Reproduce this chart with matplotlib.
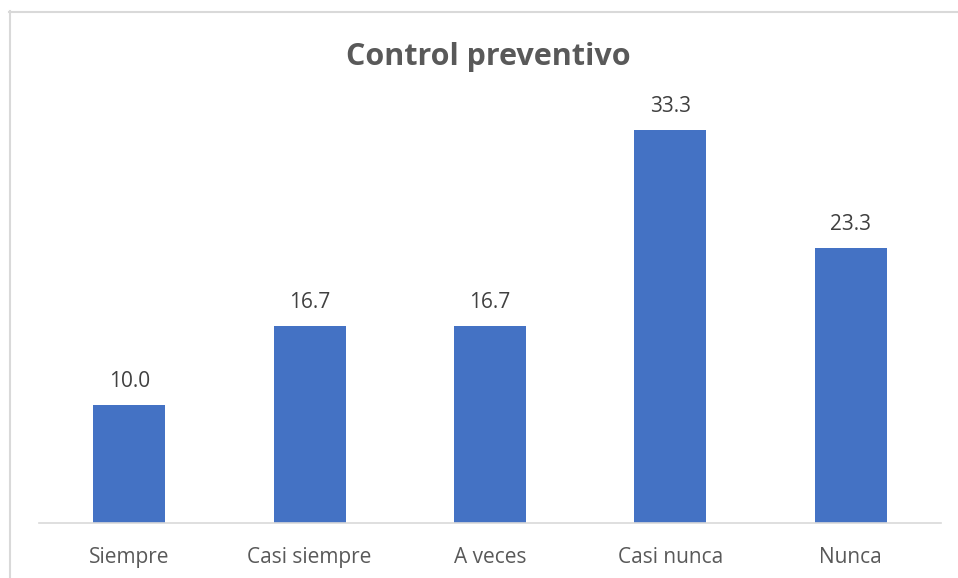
import matplotlib.pyplot as plt
from matplotlib.lines import Line2D

categories = ['Siempre', 'Casi siempre', 'A veces', 'Casi nunca', 'Nunca']
values = [10.0, 16.7, 16.7, 33.3, 23.3]

bar_color = '#4472C4'
text_color = '#595959'

fig = plt.figure(figsize=(9.58, 5.78), dpi=100)
ax = fig.add_axes([39 / 958, 55 / 578, 902 / 958, 413 / 578])

x = range(len(categories))
bars = ax.bar(x, values, width=0.4, color=bar_color, zorder=2)

ax.set_xlim(-0.5, len(categories) - 0.5)
ax.set_ylim(0, 35)

for b, v in zip(bars, values):
    ax.annotate(f'{v:.1f}', (b.get_x() + b.get_width() / 2, v),
                xytext=(0, 13), textcoords='offset points',
                ha='center', va='baseline', fontsize=15, color='#404040',
                family='Open Sans')

ax.set_xticks(list(x))
ax.set_xticklabels(categories, fontsize=15, color=text_color, family='Open Sans')
ax.tick_params(axis='x', length=0, pad=17)
ax.set_yticks([])

for s in ['top', 'right', 'left']:
    ax.spines[s].set_visible(False)
ax.spines['bottom'].set_color('#d9d9d9')
ax.spines['bottom'].set_linewidth(1.2)

fig.text(488 / 958, 1 - 65 / 578, 'Control preventivo', ha='center', va='baseline',
         fontsize=22, fontweight='bold', color=text_color, family='Open Sans')

# chart frame (only left and top edges are visible)
fig.add_artist(Line2D([9.5 / 958, 9.5 / 958], [0, 1 - 11 / 578],
                      color='#d9d9d9', lw=1.5, transform=fig.transFigure))
fig.add_artist(Line2D([9 / 958, 1], [1 - 11.5 / 578, 1 - 11.5 / 578],
                      color='#d9d9d9', lw=1.5, transform=fig.transFigure))

fig.savefig('out.png', dpi=100)
